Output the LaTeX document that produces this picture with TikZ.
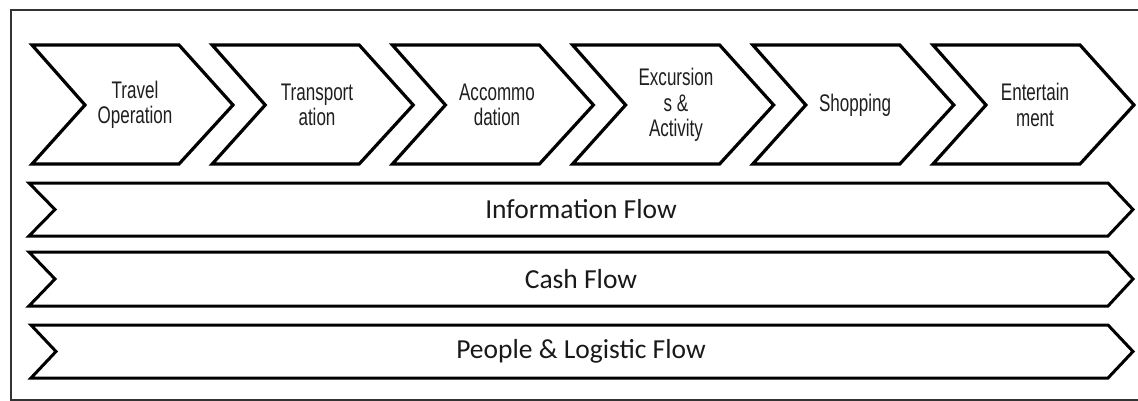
\documentclass[tikz,border=0pt]{standalone}
\usepackage{fontspec}
\setmainfont{Liberation Sans}
\newfontfamily\narrowfont[FakeStretch=0.71]{Liberation Sans}
\newfontfamily\flowfont{Carlito}
\begin{document}
\begin{tikzpicture}[x=1pt,y=-1pt,
  chev/.style={draw=black,line width=3.2pt,line join=miter,fill=white},
  bar/.style={draw=black,line width=3pt,line join=miter,fill=white},
  ctext/.style={font=\narrowfont\fontsize{24}{25.5}\selectfont,align=center,text=black!88,inner sep=0pt},
  ftext/.style={font=\flowfont\fontsize{27.5}{30}\selectfont,text=black!90,inner sep=0pt}]
\useasboundingbox (0,0) rectangle (1138,401);
% frame (left, top and bottom sides; the right side lies beyond the picture)
\coordinate (fr1) at (1150,10);
\coordinate (fr2) at (11,10);
\coordinate (fr3) at (11,400);
\coordinate (fr4) at (1150,400);
\draw[line width=2.2pt,draw=black!80] (fr1) -- (fr2) -- (fr3) -- (fr4);
% chevrons
\foreach \i in {0,...,5}{
  \pgfmathsetmacro{\xo}{32+180.2*\i}
  \draw[chev] (\xo,45) -- (\xo+147,45) -- (\xo+201,105) -- (\xo+147,164) -- (\xo,164) -- (\xo+53,105) -- cycle;
}
\node[ctext] (t1) at (135,105) {Travel\\Operation};
\node[ctext] (t2) at (317,105) {Transport\\ation};
\node[ctext] (t3) at (497,105) {Accommo\\dation};
\node[ctext] (t4) at (676,105) {Excursion\\s \&\\Activity};
\node[ctext] (t5) at (855,105) {Shopping};
\node[ctext] (t6) at (1035,105) {Entertain\\ment};
% flow bars
\draw[bar] (29,183) -- (1108,183) -- (1133,209.5) -- (1108,236) -- (29,236) -- (55,209.5) -- cycle;
\draw[bar] (29,252) -- (1108,252) -- (1133,279) -- (1108,306) -- (29,306) -- (55,279) -- cycle;
\draw[bar] (31,325) -- (1108,325) -- (1133,351.5) -- (1108,378) -- (31,378) -- (56,351.5) -- cycle;
\node[ftext] (f1) at (581,209.5) {Information Flow};
\node[ftext] (f2) at (581,279) {Cash Flow};
\node[ftext] (f3) at (581,351.5) {People \& Logistic Flow};
\end{tikzpicture}
\end{document}
